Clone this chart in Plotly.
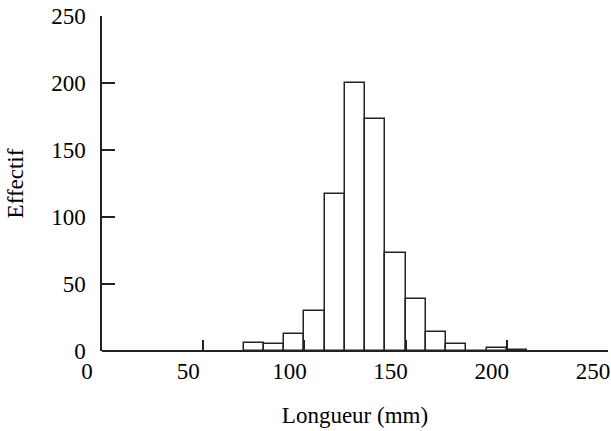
import plotly.graph_objects as go

# Histogram data (bins of 10 mm)
bin_left = [70, 80, 90, 100, 110, 120, 130, 140, 150, 160, 170, 180, 190, 200]
counts = [6, 5, 13, 30, 117, 200, 173, 73, 39, 14, 5, 0, 2, 1]
bin_width = 10

x_ticks = [0, 50, 100, 150, 200, 250]
y_ticks = [0, 50, 100, 150, 200, 250]

x_centers = [b + bin_width / 2 for b in bin_left]

fig = go.Figure()
fig.add_trace(go.Bar(
    x=x_centers,
    y=counts,
    width=[bin_width] * len(counts),
    marker=dict(color="white", line=dict(color="#222222", width=1.5)),
    showlegend=False,
))

font_family = "Liberation Serif"

fig.update_layout(
    width=611,
    height=431,
    margin=dict(l=102, r=3, t=16, b=80),
    paper_bgcolor="white",
    plot_bgcolor="white",
    font=dict(family=font_family, size=23, color="black"),
    bargap=0,
    xaxis=dict(
        range=[0, 250],
        tickvals=x_ticks,
        ticktext=[str(v) for v in x_ticks],
        ticks="inside",
        ticklen=11,
        tickwidth=1.5,
        tickcolor="#222222",
        showline=False,
        showgrid=False,
        zeroline=False,
        automargin=False,
        ticklabelshift=-15,
        ticklabelstandoff=4,
        ticklabeloverflow="allow",
        title=dict(text="Longueur (mm)", font=dict(size=23), standoff=23),
    ),
    yaxis=dict(
        range=[0, 250],
        tickvals=y_ticks,
        ticktext=[str(v) for v in y_ticks],
        ticks="inside",
        ticklen=13,
        tickwidth=1.5,
        tickcolor="#222222",
        showline=True,
        linecolor="#222222",
        linewidth=1.5,
        showgrid=False,
        zeroline=True,
        zerolinecolor="#222222",
        zerolinewidth=1.5,
        automargin=False,
        ticklabelstandoff=10,
        ticklabeloverflow="allow",
        title=dict(text="Effectif", font=dict(size=23), standoff=21),
    ),
)

fig.write_html(
    "out.html",
    config={"displayModeBar": False},
    post_script="document.body.style.margin='0';document.body.style.overflow='hidden';",
)
